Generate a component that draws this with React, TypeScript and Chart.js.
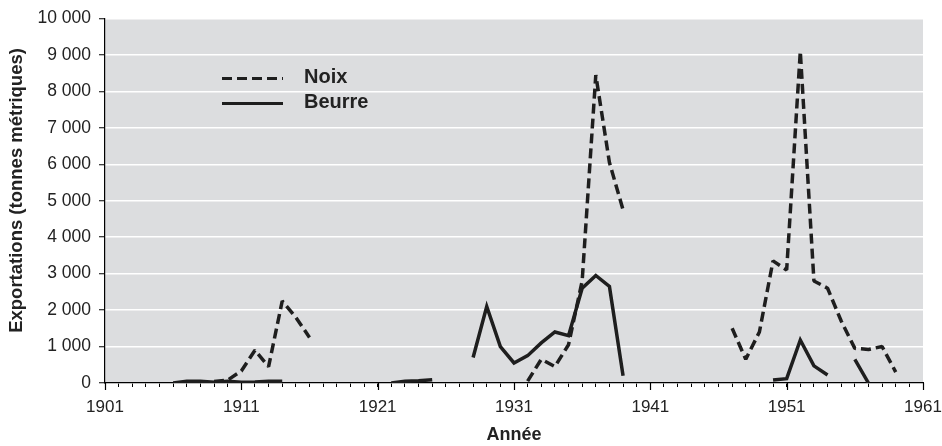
import React, { useEffect, useRef } from "react";
import { Chart, registerables } from "chart.js";

Chart.register(...registerables);

// Data
const noixYears = [1909, 1910, 1911, 1912, 1913, 1914, 1915, 1916, 1917, 1932, 1933, 1934, 1935, 1936, 1937, 1938, 1939, 1940, 1947, 1948, 1949, 1950, 1951, 1952, 1953, 1954, 1955, 1956, 1957, 1958, 1959];
const noixValues = [40, 80, 330, 900, 450, 2250, 1800, 1250, null, 50, 650, 450, 1050, 2800, 8450, 6050, 4750, null, 1500, 650, 1400, 3350, 3100, 9100, 2800, 2600, 1700, 950, 920, 1000, 300];

const beurreYears = [1906, 1907, 1908, 1909, 1910, 1911, 1912, 1913, 1914, 1915, 1922, 1923, 1924, 1925, 1926, 1928, 1929, 1930, 1931, 1932, 1933, 1934, 1935, 1936, 1937, 1938, 1939, 1940, 1950, 1951, 1952, 1953, 1954, 1955, 1956, 1957];
const beurreValues = [0, 50, 50, 20, 50, 20, 30, 50, 50, null, 0, 50, 60, 90, null, 700, 2100, 1000, 550, 750, 1100, 1400, 1300, 2600, 2950, 2650, 200, null, 80, 120, 1180, 470, 220, null, 650, 0];

const seriesLabels = ["Noix", "Beurre"];
const xTickLabels = [1901, 1911, 1921, 1931, 1941, 1951, 1961];
const xMin = 1901;
const xMax = 1961;
const yMin = 0;
const yMax = 10000;
const xTitle = "Année";
const yTitle = "Exportations (tonnes métriques)";

const TEXT = "#222222";
const LINE = "#1e1e1e";
const PLOT_BG = "#dcdddf";
const FONT = "'Liberation Sans', Arial, sans-serif";

const toPoints = (xs: number[], ys: (number | null)[]) =>
  xs.map((x, i) => ({ x, y: ys[i] }));

const bgPlugin = {
  id: "plotBg",
  beforeDraw(chart: any) {
    const { ctx, chartArea } = chart;
    ctx.save();
    ctx.fillStyle = PLOT_BG;
    ctx.fillRect(chartArea.left, chartArea.top, chartArea.right - chartArea.left, chartArea.bottom - chartArea.top);
    ctx.restore();
  },
};

const majorTickPlugin = {
  id: "majorTicks",
  afterDraw(chart: any) {
    const { ctx } = chart;
    const xs = chart.scales.x;
    ctx.save();
    ctx.strokeStyle = "#000";
    ctx.lineWidth = 1.2;
    xTickLabels.forEach((v) => {
      const px = Math.round(xs.getPixelForValue(v)) + 0.5;
      ctx.beginPath();
      ctx.moveTo(px, xs.top);
      ctx.lineTo(px, xs.top + 7);
      ctx.stroke();
    });
    ctx.restore();
  },
};

const legendPlugin = {
  id: "innerLegend",
  afterDatasetsDraw(chart: any) {
    const { ctx, chartArea } = chart;
    const x0 = chartArea.left + 117;
    const lineLen = 61;
    const y0 = chartArea.top + 60;
    const dy = 25;
    ctx.save();
    chart.data.datasets.forEach((ds: any, i: number) => {
      const y = y0 + i * dy;
      ctx.beginPath();
      ctx.strokeStyle = LINE;
      ctx.lineWidth = 3;
      ctx.setLineDash(ds.borderDash || []);
      ctx.moveTo(x0, y);
      ctx.lineTo(x0 + lineLen, y);
      ctx.stroke();
      ctx.setLineDash([]);
      ctx.fillStyle = TEXT;
      ctx.font = "bold 20px " + FONT;
      ctx.textBaseline = "middle";
      ctx.textAlign = "left";
      ctx.fillText(ds.label, x0 + lineLen + 21, y - 1);
    });
    ctx.restore();
  },
};

export default function App() {
  const canvasRef = useRef<HTMLCanvasElement | null>(null);

  useEffect(() => {
    document.body.style.margin = "0";
    const canvas = canvasRef.current;
    if (!canvas) return;
    const chart = new Chart(canvas, {
      type: "line",
      data: {
        datasets: [
          {
            label: seriesLabels[0],
            data: toPoints(noixYears, noixValues) as any,
            borderColor: LINE,
            borderWidth: 3.5,
            borderDash: [10, 5],
            pointRadius: 0,
            tension: 0,
            spanGaps: false,
            borderJoinStyle: "bevel",
            borderCapStyle: "butt",
          },
          {
            label: seriesLabels[1],
            data: toPoints(beurreYears, beurreValues) as any,
            borderColor: LINE,
            borderWidth: 3.5,
            pointRadius: 0,
            tension: 0,
            spanGaps: false,
            borderJoinStyle: "miter",
            borderCapStyle: "butt",
          },
        ],
      },
      options: {
        animation: false,
        responsive: true,
        maintainAspectRatio: false,
        layout: { padding: { top: 16, right: 19, left: 0, bottom: 0 } },
        plugins: {
          legend: { display: false },
          tooltip: { enabled: false },
        },
        scales: {
          x: {
            type: "linear",
            min: xMin,
            max: xMax,
            afterFit: (s: any) => {
              s.height = 63;
              s.paddingLeft = 0;
              s.paddingRight = 0;
            },
            border: { color: "#000", width: 1.2 },
            grid: {
              drawOnChartArea: false,
              drawTicks: true,
              tickLength: 4,
              tickColor: "#000",
              tickWidth: 1,
            },
            ticks: {
              stepSize: 1,
              autoSkip: false,
              maxRotation: 0,
              minRotation: 0,
              padding: 10,
              color: TEXT,
              font: { family: FONT, size: 17 },
              callback: (v: any) => (xTickLabels.includes(Number(v)) ? String(v) : ""),
            },
            title: {
              display: true,
              text: xTitle,
              color: TEXT,
              font: { family: FONT, size: 18, weight: "bold", lineHeight: 1.2 },
              padding: { top: 0, bottom: 0 },
            },
          },
          y: {
            type: "linear",
            min: yMin,
            max: yMax,
            afterFit: (s: any) => {
              s.width = 105;
            },
            border: { color: "#000", width: 1.2 },
            grid: {
              color: "#ffffff",
              lineWidth: 1.5,
              drawTicks: true,
              tickLength: 6,
              tickColor: "#000",
              tickWidth: 1,
            },
            ticks: {
              stepSize: 1000,
              padding: 8,
              color: TEXT,
              font: { family: FONT, size: 17.5 },
              callback: (v: any) => String(v).replace(/\B(?=(\d{3})+(?!\d))/g, " "),
            },
            title: {
              display: true,
              text: "    " + yTitle,
              color: TEXT,
              font: { family: FONT, size: 18.5, weight: "bold", lineHeight: 1.2 },
              padding: { top: 6, bottom: 0 },
            },
          },
        },
      },
      plugins: [bgPlugin, majorTickPlugin, legendPlugin],
    });
    return () => chart.destroy();
  }, []);

  return (
    <div style={{ width: 942, height: 446, position: "relative" }}>
      <canvas ref={canvasRef} />
    </div>
  );
}
